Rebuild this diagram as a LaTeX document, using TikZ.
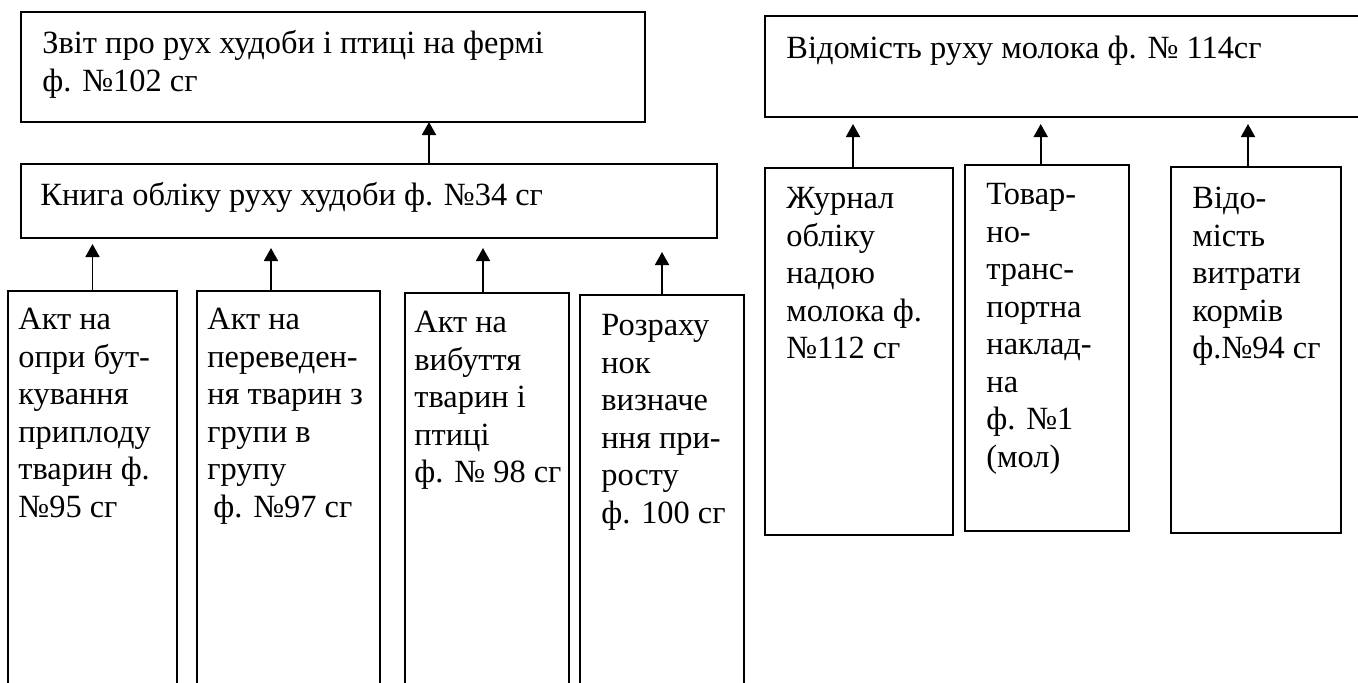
\documentclass[tikz,border=0pt]{standalone}
\usepackage{fontspec}
\setmainfont{Liberation Serif}
\usetikzlibrary{arrows.meta}

\begin{document}
\begin{tikzpicture}[
    x = 0.5pt,
    y = -0.5pt,
    >={Triangle[length=6.5pt,width=7pt]},
    box/.style = {draw, line width=0.9pt, anchor=north west,
    inner sep=0pt, outer sep=0pt},
    txt/.style = {anchor=north west, inner sep=0pt, align=left,
    font=\fontsize{16.2}{18.75}\selectfont},
    arr/.style = {->, line width=0.9pt},
]

\useasboundingbox (0,0) rectangle (1358,682);
\clip (0,0) rectangle (1358,682);

\node[box, minimum width=312pt, minimum height=55pt] (zvit) at (21,12){};
\node[box, minimum width=348pt, minimum height=37pt] (knyga) at (21,164){};
\node[box, minimum width=84.5pt, minimum height=210pt] (akt1) at (8,291){};
\node[box, minimum width=91.5pt, minimum height=210pt] (akt2) at (197,291){};
\node[box, minimum width=82pt, minimum height=210pt] (akt3) at (405,293){};
\node[box, minimum width=82pt, minimum height=210pt] (rozrah) at (580,295){};

\node[box, minimum width=310pt, minimum height=50.5pt] (vidomist) at (765,16){};
\node[box, minimum width=94pt, minimum height=183.5pt] (zhurnal) at (765,168){};
\node[box, minimum width=82pt, minimum height=183pt] (tovar) at (965,165){};
\node[box, minimum width=85pt, minimum height=183pt] (vidkorm) at (1171,167){};

\node[txt] (zvit_t) at (42,27){\strut Звіт про рух худоби і птиці на фермі\\ф. №102 сг};
\node[txt] (knyga_t) at (40,179){\strut Книга обліку руху худоби ф. №34 сг};
\node[txt] (akt1_t) at (18,303){\strut Акт на\\опри бут-\\кування\\приплоду\\тварин ф.\\№95 сг};
\node[txt] (akt2_t) at (207,303){\strut Акт на\\переведен-\\ня тварин з\\групи в\\групу\\\hspace{3pt}ф. №97 сг};
\node[txt] (akt3_t) at (414,306){\strut Акт на\\вибуття\\тварин і\\птиці\\ф. № 98 сг};
\node[txt] (rozrah_t) at (601,309){\strut Розраху\\нок\\визначе\\ння при-\\росту\\ф. 100 сг};

\node[txt] (vidomist_t) at (786,32){\strut Відомість руху молока ф. № 114сг};
\node[txt] (zhurnal_t) at (786,182){\strut Журнал\\обліку\\надою\\молока ф.\\№112 сг};
\node[txt] (tovar_t) at (986,178){\strut Товар-\\но-\\транс-\\портна\\наклад-\\на\\ф. №1\\(мол)};
\node[txt] (vidkorm_t) at (1192,182){\strut Відо-\\мість\\витрати\\кормів\\ф.№94 сг};

\draw[arr] ([xshift=204pt]knyga.north west) -- ([xshift=204pt]knyga.north west |- zvit.south);
\draw[arr, shorten >=3pt] (akt1.north) -- (akt1.north |- knyga.south);
\draw[arr, shorten >=5pt] ([xshift=-8.75pt]akt2.north) -- ([xshift=-8.75pt]akt2.north |- knyga.south);
\draw[arr, shorten >=5pt] ([xshift=-2pt]akt3.north) -- ([xshift=-2pt]akt3.north |- knyga.south);
\draw[arr, shorten >=7pt] (rozrah.north) -- (rozrah.north |- knyga.south);

\draw[arr, shorten >=3.5pt] ([xshift=-3pt]zhurnal.north) -- ([xshift=-3pt]zhurnal.north |- vidomist.south);
\draw[arr, shorten >=3.5pt] ([xshift=-3.15pt]tovar.north) -- ([xshift=-3.15pt]tovar.north |- vidomist.south);
\draw[arr, shorten >=3.5pt] ([xshift=-4pt]vidkorm.north) -- ([xshift=-4pt]vidkorm.north |- vidomist.south);
\end{tikzpicture}
\end{document}
